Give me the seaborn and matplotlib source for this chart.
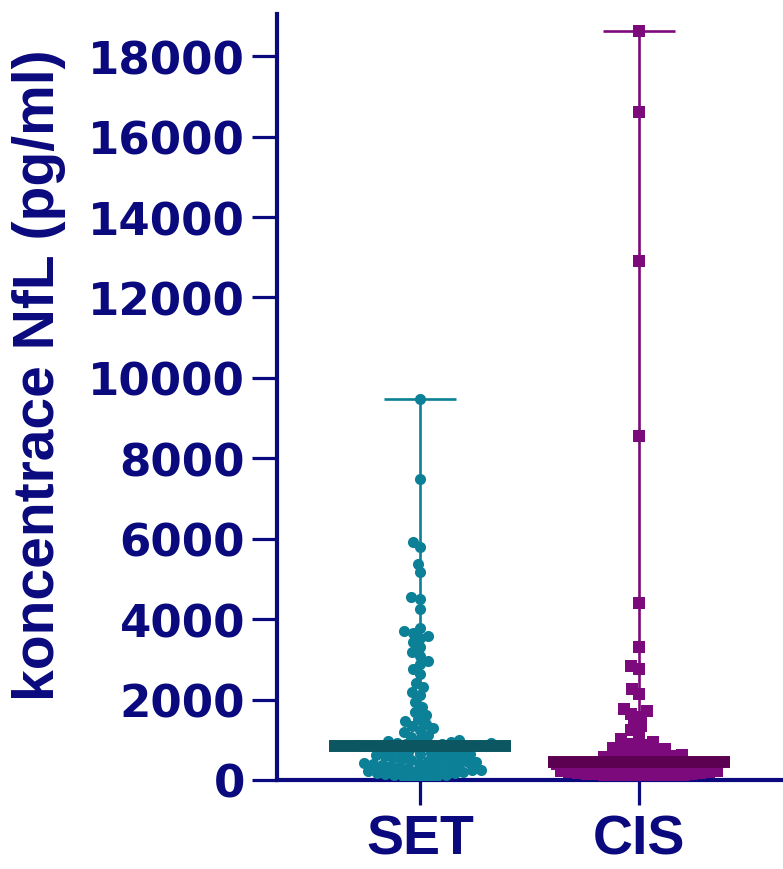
import numpy as np
import pandas as pd
import matplotlib
matplotlib.use("Agg")
import matplotlib.pyplot as plt
import seaborn as sns

# ---------------- data ----------------
groups = ["SET", "CIS"]

set_values = [
    9480, 7490, 5920, 5800, 5370, 5170, 4550, 4500, 4250,
    3780, 3700, 3660, 3590, 3540,
    3420, 3300, 3190,
    3090, 2960, 2880,
    2760, 2640,
    2420, 2310, 2190, 2120,
    1930, 1810, 1700, 1620,
    1510, 1460, 1400, 1340, 1290,
    1250, 1200, 1130, 1080, 1030, 990, 960,
    940, 925, 910, 900, 890, 880, 870, 860, 855, 845, 840, 835, 830,
    810, 795, 785, 760, 745, 730, 705, 690, 675, 650, 640, 620, 605, 590,
    570, 555, 540, 520, 510, 490, 480, 460, 450, 430, 420, 405, 390, 370,
    360, 345, 330, 315, 300, 290, 270, 255, 245, 230, 215, 200, 185, 170,
    150, 135, 120, 105, 90, 75, 60, 45,
]

cis_values = [
    18630, 16620, 12910, 8560, 4400, 3310, 2840, 2760, 2260, 2140,
    1760, 1720,
    1650, 1560, 1450, 1350,
    1250, 1150, 1020,
    950, 900, 860, 850, 800, 760, 740,
    700, 690, 660, 650, 610, 590, 570, 550, 530, 500, 490, 470, 450,
    435, 420, 410, 400, 395, 390, 380, 370, 355, 345, 340, 330, 320, 305,
    290, 280, 270, 265, 255, 240, 230, 215, 200, 190, 185, 175, 160, 150,
    140, 135, 125, 110, 100, 90, 80, 70, 65, 60, 50,
]

y_ticks = [0, 2000, 4000, 6000, 8000, 10000, 12000, 14000, 16000, 18000]
y_label = "koncentrace NfL (pg/ml)"

# ---------------- style ----------------
navy = "#0a0a7e"
point_colors = {"SET": "#0b8096", "CIS": "#7d0a7d"}
median_colors = {"SET": "#0b5660", "CIS": "#5c0152"}
markers = {"SET": "o", "CIS": "s"}
layout_size = {"SET": 6.0, "CIS": 6.0}    # marker size used to lay out the swarm (pt)
display_size = {"SET": 8.0, "CIS": 8.6}   # marker size finally drawn (pt)

sns.set_theme(style="white")
plt.rcParams["font.family"] = ["Liberation Sans", "DejaVu Sans"]

df = pd.concat([
    pd.DataFrame({"group": "SET", "value": set_values}),
    pd.DataFrame({"group": "CIS", "value": cis_values}),
], ignore_index=True)

fig = plt.figure(figsize=(7.83, 8.70), dpi=100)
ax = fig.add_axes([277 / 783, 89 / 870, (783 - 277) / 783, (781 - 15) / 870])

swarm_cols = {}
for g in groups:
    sub = df[df["group"] == g]
    n_before = len(ax.collections)
    sns.swarmplot(data=sub, x="group", y="value", order=groups,
                  color=point_colors[g], marker=markers[g],
                  size=layout_size[g], linewidth=0, ax=ax, zorder=3,
                  warn_thresh=1.0)
    swarm_cols[g] = ax.collections[n_before:]

ax.set_xlim(-0.653, 1.658)
ax.set_ylim(0, 19050)

# range lines and medians
for i, g in enumerate(groups):
    vals = np.asarray(df.loc[df["group"] == g, "value"])
    lo, hi, med = vals.min(), vals.max(), np.median(vals)
    ax.vlines(i, lo, hi, color=point_colors[g], lw=1.9, zorder=2)
    ax.hlines([lo, hi], i - 0.165, i + 0.165, color=point_colors[g], lw=1.9, zorder=2)
    ax.hlines(med, i - 0.415, i + 0.415, color=median_colors[g], lw=8.6, zorder=5)

# lay out the swarm, then enlarge the markers so they overlap as in the original
fig.canvas.draw()
for g in groups:
    for c in swarm_cols[g]:
        if "draw" in c.__dict__:
            del c.draw
        c.set_sizes([display_size[g] ** 2])

ax.set_xlim(-0.653, 1.658)
ax.set_ylim(0, 19050)

# axes styling
for side in ["top", "right"]:
    ax.spines[side].set_visible(False)
for side in ["left", "bottom"]:
    ax.spines[side].set_color(navy)
    ax.spines[side].set_linewidth(3.0)
ax.grid(False)

ax.set_yticks(y_ticks)
ax.set_yticklabels([str(t) for t in y_ticks], fontfamily="DejaVu Sans",
                   fontweight="bold", fontsize=32.5, color=navy)
ax.set_xticks(range(len(groups)))
ax.set_xticklabels(groups, fontfamily="Liberation Sans", fontweight="bold",
                   fontsize=40, color=navy)
ax.tick_params(axis="y", direction="out", length=18, width=2.3, color=navy, pad=5, left=True)
ax.tick_params(axis="x", direction="out", length=18, width=2.3, color=navy, pad=6, bottom=True)

ax.set_xlabel("")
ax.set_ylabel(y_label, fontfamily="Liberation Sans", fontweight="bold",
              fontsize=41, color=navy)
ax.yaxis.set_label_coords((66 - 277) / (783 - 277), (781 - 375) / (781 - 15))

fig.savefig("out.png", dpi=100)
